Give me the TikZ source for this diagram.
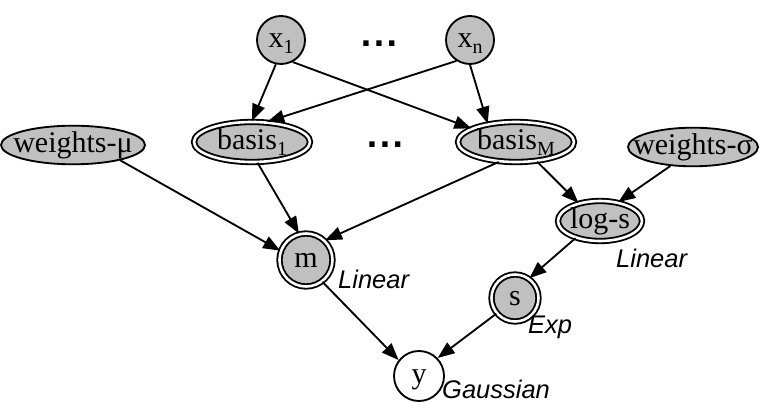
\documentclass[tikz,border=0pt]{standalone}
\usepackage{fontspec}
\setmainfont{Liberation Serif}
\setsansfont{Liberation Sans}
\newfontfamily\dotfont{DejaVu Sans}
\usetikzlibrary{arrows.meta,shapes.geometric}
\definecolor{nodegray}{RGB}{192,192,192}
\newcommand{\sbs}[1]{\raisebox{-6pt}{\fontsize{20}{20}\selectfont #1}}
\newcommand{\ntext}[1]{\makebox[0pt]{\vphantom{hg}#1}}
\begin{document}
\begin{tikzpicture}[x=1pt,y=-1pt,
  every node/.style={font=\fontsize{30}{32}\selectfont, inner sep=0pt},
  plainnode/.style={draw, line width=1.85pt, fill=nodegray},
  dblnode/.style={draw, line width=1.85pt, double=white, double distance=2.6pt, fill=nodegray},
  lab/.style={font=\sffamily\itshape\fontsize{25.5}{28}\selectfont, anchor=base west},
  dots/.style={font=\dotfont\bfseries\fontsize{30}{30}\selectfont, anchor=base},
  conn/.style={line width=1.85pt, -{Triangle[length=17pt,width=13pt]}}
]
\useasboundingbox (0,0) rectangle (759,403);

% top row
\node[plainnode,circle,minimum size=48] (x1) at (281,40) {\ntext{x\sbs{1}}};
\node[plainnode,circle,minimum size=48] (xn) at (470,40) {\ntext{x\sbs{n}}};
\node[dots] (dtop) at (379,46.5) {.\kern1.5pt.\kern1.5pt.};

% middle row
\node[plainnode,ellipse,minimum width=144,minimum height=38] (wmu) at (73,145) {\ntext{weights-μ}};
\node[dblnode,ellipse,minimum width=116,minimum height=40] (b1) at (252,142) {\ntext{basis\sbs{1}}};
\node[dots] (dmid) at (385,148) {.\kern1.5pt.\kern1.5pt.};
\node[dblnode,ellipse,minimum width=116,minimum height=40] (bM) at (516,142) {\ntext{basis\sbs{M}}};
\node[plainnode,ellipse,minimum width=130,minimum height=38] (wsig) at (693,147) {\ntext{weights-σ}};

% lower nodes
\node[dblnode,ellipse,minimum width=84,minimum height=40] (logs) at (600,221) {\ntext{log-s}};
\node[dblnode,circle,minimum size=53] (m) at (306,260) {\ntext{m}};
\node[dblnode,circle,minimum size=47] (s) at (515,298) {\ntext{s}};
\node[draw,line width=1.85pt,fill=white,circle,minimum size=50] (y) at (419,376) {\ntext{y}};

% labels
\node[lab] (lm) at (338,288) {Linear};
\node[lab] (llogs) at (616,267) {Linear};
\node[lab] (ls) at (528,333) {Exp};
\node[lab] (ly) at (442,398.5) {Gaussian};

% connectors
\draw[conn] (x1.258) -- (b1.90);
\draw[conn] (xn.237) -- (b1.53);
\draw[conn] (x1.298) -- (bM.163);
\draw[conn] (xn.270) -- (bM.147);
\draw[conn] (wmu.342) -- (m.160);
\draw[conn] (b1.285) -- (m.105);
\draw[conn] (bM.229) -- (m.46);
\draw[conn] (bM.317) -- (logs.140);
\draw[conn] (wsig.220) -- (logs.46);
\draw[conn] (logs.215) -- (s.54);
\draw[conn] (m.307) -- (y.142);
\draw[conn] (s.220) -- (y.44);
\end{tikzpicture}
\end{document}
